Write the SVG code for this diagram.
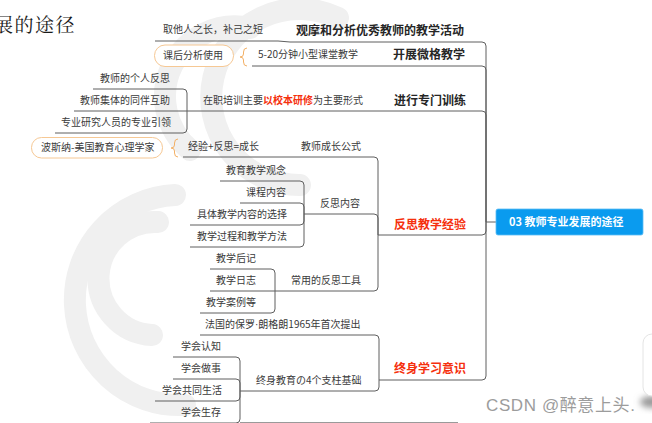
<svg xmlns="http://www.w3.org/2000/svg" width="652" height="423" viewBox="0 0 652 423">
<defs>
<style>
.wm{fill:none;stroke:#f0f0f0;stroke-width:22;stroke-linecap:round}
.ln{fill:none;stroke:#5f5f5f;stroke-width:1}
.t{font-family:"Noto Sans CJK SC","Noto Sans",sans-serif;font-size:10px;fill:#3a3a3a}
.b{font-family:"Noto Sans CJK SC","Noto Sans",sans-serif;font-size:12px;font-weight:bold;fill:#262626}
.r{fill:#f5300d}
.rb{font-weight:bold;fill:#f5300d}
.ob{fill:#fff;stroke:#f6c894;stroke-width:1}
.br{fill:none;stroke:#f3b066;stroke-width:1}
</style>
<filter id="sh" x="-50%" y="-50%" width="200%" height="200%">
<feGaussianBlur stdDeviation="3"/>
</filter>
</defs>
<rect width="652" height="423" fill="#ffffff"/>
<g id="watermark">
<path class="wm" d="M338,18 A88,88 0 1 0 300,185"/>
<path class="wm" d="M250,28 A70,70 0 0 0 190,150"/>
<path class="wm" d="M175,195 A85,85 0 1 0 185,405"/>
<path class="wm" d="M158,222 A52,52 0 0 0 152,335"/>
</g>
<text x="-6" y="32" style="font-family:'Noto Serif CJK SC','Noto Sans CJK SC',serif;font-size:19px;fill:#1a1a1a;letter-spacing:1.5px">展的途径</text>
<g id="connectors">
<path class="ln" d="M486,222 H496"/>
<path class="ln" d="M486,222 V46 Q486,42 482,42 H290 L278,41 H155"/>
<path class="ln" d="M486,222 V70 Q486,66 482,66 H378 H252"/>
<path class="ln" d="M486,222 V115 Q486,111 482,111 H378 H187"/>
<path class="ln" d="M187,111 V93 Q187,89 183,89 H93"/>
<path class="ln" d="M187,111 H74"/>
<path class="ln" d="M187,111 V129 Q187,133 183,133 H55"/>
<path class="ln" d="M486,222 V231 Q486,235 482,235 H378"/>
<path class="ln" d="M378,235 V161 Q378,157 374,157 H183"/>
<path class="ln" d="M378,235 V218 Q378,214 374,214 H304"/>
<path class="ln" d="M378,235 V287 Q378,291 374,291 H275"/>
<path class="ln" d="M304,214 V185 Q304,181 300,181 H220"/>
<path class="ln" d="M304,214 V207 Q304,203 300,203 H240"/>
<path class="ln" d="M304,214 V221 Q304,225 300,225 H190"/>
<path class="ln" d="M304,214 V243 Q304,247 300,247 H190"/>
<path class="ln" d="M275,291 V273 Q275,269 271,269 H210"/>
<path class="ln" d="M275,291 H210"/>
<path class="ln" d="M275,291 V309 Q275,313 271,313 H200"/>
<path class="ln" d="M486,222 V376 Q486,380 482,380 H379"/>
<path class="ln" d="M379,380 V339 Q379,335 375,335 H200"/>
<path class="ln" d="M379,380 V387 Q379,391 375,391 H240"/>
<path class="ln" d="M240,391 V361 Q240,357 236,357 H173"/>
<path class="ln" d="M240,391 V383 Q240,379 236,379 H173"/>
<path class="ln" d="M240,391 V397 Q240,401 236,401 H155"/>
<path class="ln" d="M240,391 V419 Q240,423 236,423 H150"/>
<path class="br" d="M247,48 Q243.5,48 243.5,52 V54 Q243.5,57 240,57 Q243.5,57 243.5,60 V62 Q243.5,66 247,66"/>
<path class="br" d="M178,139 Q174.5,139 174.5,143 V145 Q174.5,148 171,148 Q174.5,148 174.5,151 V153 Q174.5,157 178,157"/>
</g>
<g id="center">
<rect x="496" y="209" width="147" height="26" rx="2" fill="#0a9bef" stroke="#5cbcf5" stroke-width="0.8"/>
<text x="509" y="225.5" style="font-family:'Noto Sans CJK SC','Noto Sans',sans-serif;font-size:11px;font-weight:bold;fill:#ffffff">03 教师专业发展的途径</text>
</g>
<g id="b1"><text class="b" x="296" y="34.5">观摩和分析优秀教师的教学活动</text></g>
<g id="b1c1"><text class="t" x="163" y="33">取他人之长，补己之短</text></g>
<g id="b2"><text class="b" x="393" y="58.5">开展微格教学</text></g>
<g id="b2c1"><text class="t" x="258" y="58">5-20分钟小型课堂教学</text></g>
<g id="b2s"><rect class="ob" x="154.5" y="45" width="79" height="21.5" rx="10.5"/><text class="t" x="163" y="59">课后分析使用</text></g>
<g id="b3"><text class="b" x="394" y="104.5">进行专门训练</text></g>
<g id="b3c1"><text class="t" x="203" y="104">在职培训主要<tspan class="rb">以校本研修</tspan>为主要形式</text></g>
<g id="b3c1a"><text class="t" x="100" y="82">教师的个人反思</text></g>
<g id="b3c1b"><text class="t" x="80" y="104">教师集体的同伴互助</text></g>
<g id="b3c1c"><text class="t" x="61" y="126">专业研究人员的专业引领</text></g>
<g id="b4"><text class="b r" x="394" y="228.5">反思教学经验</text></g>
<g id="b4c1"><text class="t" x="301" y="150">教师成长公式</text></g>
<g id="b4c1a"><text class="t" x="188" y="150">经验+反思=成长</text></g>
<g id="b4s"><rect class="ob" x="31.5" y="137.5" width="131" height="20.5" rx="10"/><text class="t" x="41" y="151">波斯纳-美国教育心理学家</text></g>
<g id="b4c2"><text class="t" x="320" y="207">反思内容</text></g>
<g id="b4c2a"><text class="t" x="226" y="174">教育教学观念</text></g>
<g id="b4c2b"><text class="t" x="246" y="196">课程内容</text></g>
<g id="b4c2c"><text class="t" x="197" y="218">具体教学内容的选择</text></g>
<g id="b4c2d"><text class="t" x="197" y="240">教学过程和教学方法</text></g>
<g id="b4c3"><text class="t" x="291" y="284">常用的反思工具</text></g>
<g id="b4c3a"><text class="t" x="216" y="262">教学后记</text></g>
<g id="b4c3b"><text class="t" x="216" y="284">教学日志</text></g>
<g id="b4c3c"><text class="t" x="206" y="306">教学案例等</text></g>
<g id="b5"><text class="b r" x="394" y="372.5">终身学习意识</text></g>
<g id="b5c1"><text class="t" x="205" y="328">法国的保罗<tspan style="font-family:'Liberation Sans',sans-serif">·</tspan>朗格朗1965年首次提出</text></g>
<g id="b5c2"><text class="t" x="256" y="384">终身教育の4个支柱基础</text></g>
<g id="b5c2a"><text class="t" x="181" y="350">学会认知</text></g>
<g id="b5c2b"><text class="t" x="181" y="372">学会做事</text></g>
<g id="b5c2c"><text class="t" x="162" y="394">学会共同生活</text></g>
<g id="b5c2d"><text class="t" x="181" y="416">学会生存</text></g>
<line x1="240" y1="422.5" x2="458" y2="422.5" stroke="#9a9a9a" stroke-width="1"/>
<text x="486" y="411" style="font-family:'Liberation Sans','Noto Sans CJK SC',sans-serif;font-size:17px;fill:#9c9c9c;letter-spacing:0.6px">CSDN @醉意上头.</text>
<ellipse cx="652" cy="402" rx="12" ry="6" fill="#9a9a9a" filter="url(#sh)"/>
<rect x="643" y="334" width="30" height="62" rx="9" fill="#ffffff" stroke="#e4e4e4"/>
</svg>
